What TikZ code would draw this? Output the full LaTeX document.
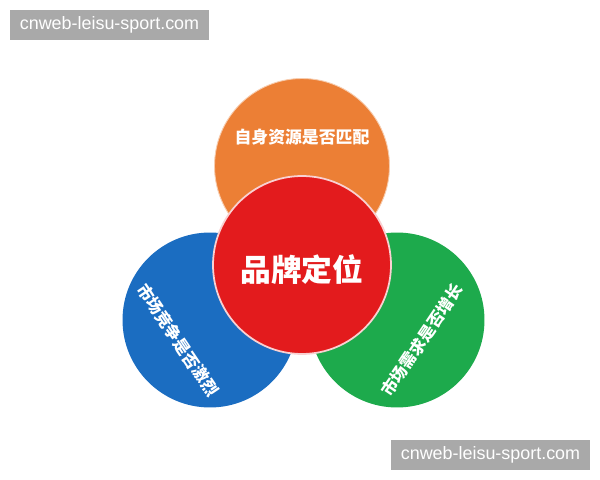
\documentclass[tikz,border=0pt]{standalone}
\usepackage{fontspec}
\newfontfamily\cjk{Noto Sans CJK SC}
\newfontfamily\wmfont{Liberation Sans}
\definecolor{ballorange}{HTML}{EC7F35}
\definecolor{ballred}{HTML}{E31B1D}
\definecolor{ballblue}{HTML}{1B6DC1}
\definecolor{ballgreen}{HTML}{1DAA4C}
\definecolor{wmgray}{HTML}{A9A9A9}

\begin{document}
\begin{tikzpicture}[x=0.02cm,y=-0.02cm,
  ball/.style={circle,inner sep=0pt,minimum size=3.5cm},
  lbl/.style={text=white,inner sep=0pt,font=\cjk\bfseries\fontsize{9.6}{11}\selectfont},
  wmbox/.style={fill=wmgray,text=white,inner sep=0pt,minimum width=3.98cm,minimum height=0.6cm,
    font=\wmfont\fontsize{10.2}{12}\selectfont}]
\useasboundingbox (0,0) rectangle (600,480);
\fill[white] (0,0) rectangle (600,480);
% the four circles, red one on top
\node[ball,fill=ballorange,draw=ballorange!40,line width=0.5pt] (self) at (302,166) {};
\node[ball,fill=ballblue] (compete) at (210,320) {};
\node[ball,fill=ballgreen] (demand) at (397,320) {};
\node[ball,fill=ballred,draw=ballred!20,line width=1pt,minimum size=3.56cm] (brand) at (302,265) {};
% labels
\node[lbl] (selftxt) at (302,137) {自身资源是否匹配};
\node[lbl,font=\cjk\bfseries\fontsize{17.5}{20}\selectfont] (brandtxt) at (302,270) {品牌定位};
\node[lbl,font=\cjk\bfseries\fontsize{9.3}{11}\selectfont,rotate=-56] (competetxt) at (178,340) {市场竞争是否激烈};
\node[lbl,font=\cjk\bfseries\fontsize{9.3}{11}\selectfont,rotate=56] (demandtxt) at (422,340) {市场需求是否增长};
% watermarks
\node[wmbox] (wmtop) at (109.5,25) {cnweb-leisu-sport.com};
\node[wmbox] (wmbot) at (490.5,455) {cnweb-leisu-sport.com};
\end{tikzpicture}
\end{document}
